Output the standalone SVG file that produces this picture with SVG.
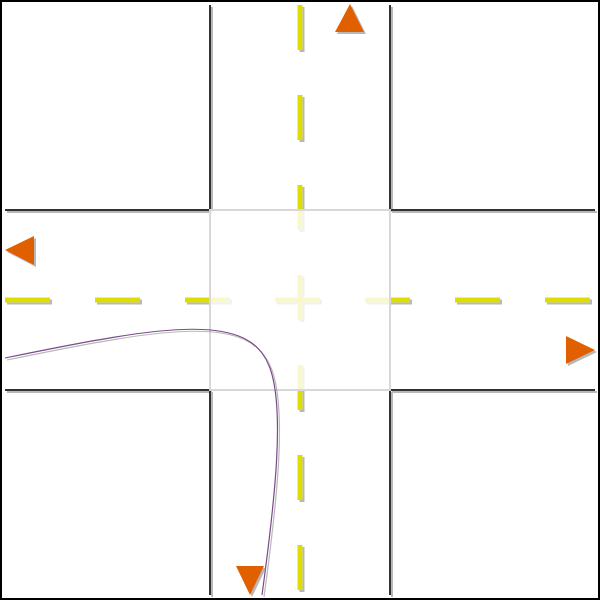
<svg xmlns="http://www.w3.org/2000/svg" width="600" height="600" viewBox="0 0 600 600">
<defs>
<filter id="sh" x="-10%" y="-10%" width="130%" height="130%">
<feDropShadow dx="2" dy="2" stdDeviation="0.4" flood-color="#888" flood-opacity="0.6"/>
</filter>
</defs>
<style>
.road{stroke:#333;stroke-width:2;fill:none}
.lane{stroke:#dddd00;stroke-width:5;fill:none;stroke-dasharray:45 45}
.arrow{fill:#e06000}
.path{stroke:#7a4a8a;stroke-width:1.2;fill:none}
</style>
<rect x="0" y="0" width="600" height="600" fill="#fff"/>
<g id="lanes" filter="url(#sh)">
<line class="lane" x1="300" y1="5" x2="300" y2="595"/>
<line class="lane" x1="5" y1="300" x2="595" y2="300"/>
</g>
<g id="roads" filter="url(#sh)">
<line class="road" x1="210" y1="5" x2="210" y2="210"/>
<line class="road" x1="390" y1="5" x2="390" y2="210"/>
<line class="road" x1="210" y1="390" x2="210" y2="595"/>
<line class="road" x1="390" y1="390" x2="390" y2="595"/>
<line class="road" x1="5" y1="210" x2="210" y2="210"/>
<line class="road" x1="5" y1="390" x2="210" y2="390"/>
<line class="road" x1="390" y1="210" x2="595" y2="210"/>
<line class="road" x1="390" y1="390" x2="595" y2="390"/>
</g>
<g id="junction">
<rect x="210" y="210" width="180" height="180" fill="#fff" fill-opacity="0.8" stroke="#d8d8d8" stroke-width="2"/>
</g>
<g id="connectors" filter="url(#sh)">
<path class="path" d="M5,358 C170,324 250,312 270,368 C285,410 275,500 262,595"/>
</g>
<g id="arrow-up" filter="url(#sh)"><polygon class="arrow" points="350,4 335,32 364,32"/></g>
<g id="arrow-left" filter="url(#sh)"><polygon class="arrow" points="5,250 34,236 34,265"/></g>
<g id="arrow-right" filter="url(#sh)"><polygon class="arrow" points="566,336 566,364 595,350"/></g>
<g id="arrow-down" filter="url(#sh)"><polygon class="arrow" points="236,566 264,566 250,595"/></g>
<rect x="1" y="1" width="598" height="598" fill="none" stroke="#000" stroke-width="2"/>
</svg>
